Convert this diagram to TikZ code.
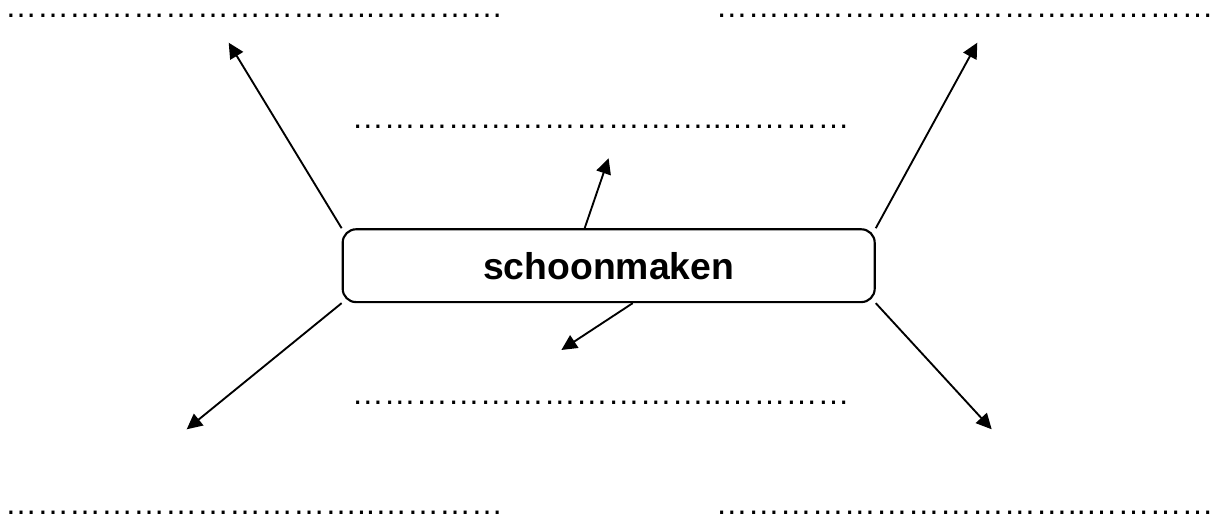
\documentclass[tikz,border=0pt]{standalone}
\usepackage{fontspec}
\setmainfont{Liberation Sans}
\usetikzlibrary{arrows.meta,calc}

\begin{document}
\begin{tikzpicture}[x=0.375pt,y=-0.375pt,
    pijl/.style={line width=0.7pt,-{Triangle[length=5.8pt,width=5.6pt]}},
    stippel/.style={inner sep=0pt,anchor=base west,font=\fontsize{12}{14}\selectfont}]
\useasboundingbox (0,0) rectangle (1213,518);

% het vak
\node (box) [draw,line width=0.8pt,rounded corners=5pt,inner sep=0pt,
    minimum width=199.5pt,minimum height=27.3pt,
    font=\fontsize{14}{16}\selectfont\bfseries] at (608.7,265.7) {schoonmaken};

% de stippellijnen
\foreach \n/\x/\y in {la/4.7/17.4,ra/715.4/17.4,mb/351.4/128.4,mo/351.4/404.4,lo/4.7/514.4,ro/715.4/514.4}
    \node (\n) [stippel] at (\x,\y) {……………………………..…………};

% de punten van de pijlen
\foreach \n/\x/\y in {pla/228.7/42.7,pra/977.3/42.7,plo/186.7/429.3,pro/991.7/429.3,pb/608.6/158.3,po/561.4/350}
    \coordinate (\n) at (\x,\y);
\coordinate (bb) at ($(box.north west)!0.455!(box.north east)$);
\coordinate (bo) at ($(box.south west)!0.545!(box.south east)$);

% de pijlen
\foreach \s/\t in {box.north west/pla,box.north east/pra,box.south west/plo,box.south east/pro,bb/pb,bo/po}
    \draw [pijl] (\s)--(\t);
\end{tikzpicture}
\end{document}
